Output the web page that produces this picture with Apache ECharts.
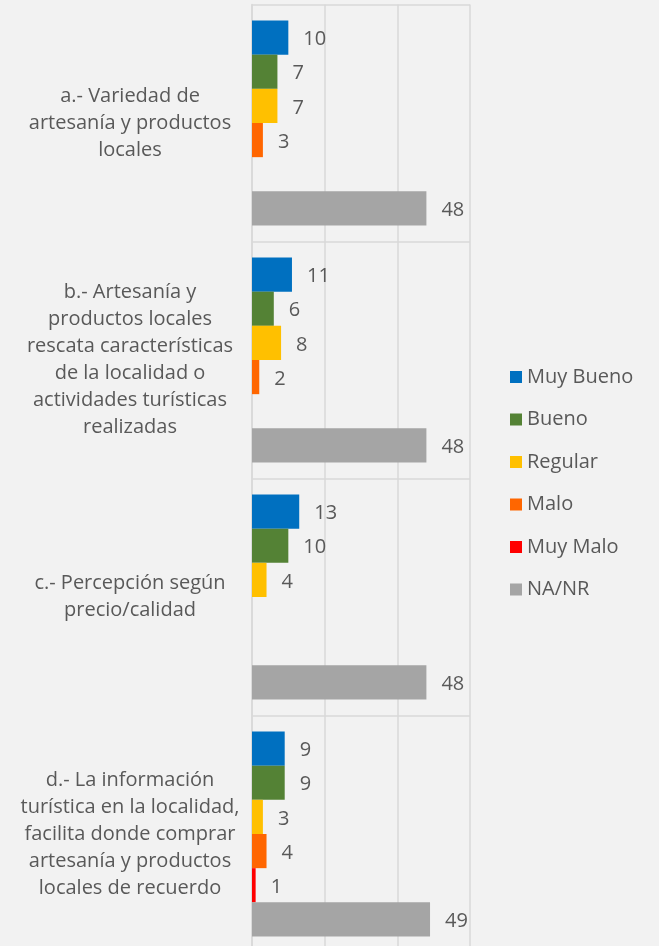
<!DOCTYPE html>
<html>
<head>
<meta charset="utf-8">
<script src="https://cdn.jsdelivr.net/npm/echarts@6/dist/echarts.min.js"></script>
<style>
  html, body { margin: 0; padding: 0; background: #F2F2F2; overflow: hidden; }
  #main { width: 659px; height: 960px; }
</style>
</head>
<body>
<div id="main"></div>
<script>
// categories (top to bottom)
var categories = [
  'a.- Variedad de\nartesanía y productos\nlocales',
  'b.- Artesanía y\nproductos locales\nrescata características\nde la localidad o\nactividades turísticas\nrealizadas',
  'c.- Percepción según\nprecio/calidad',
  'd.- La información\nturística en la localidad,\nfacilita donde comprar\nartesanía y productos\nlocales de recuerdo'
];
var seriesNames = ['Muy Bueno', 'Bueno', 'Regular', 'Malo', 'Muy Malo', 'NA/NR'];
var muyBueno = [10, 11, 13, 9];
var bueno = [7, 6, 10, 9];
var regular = [7, 8, 4, 3];
var malo = [3, 2, '-', 4];
var muyMalo = ['-', '-', '-', 1];
var naNr = [48, 48, 48, 49];
var xTicks = [0, 20, 40, 60];

var colors = ['#0070C0', '#548235', '#FFC000', '#FF6600', '#FF0000', '#A5A5A5'];
var values = [muyBueno, bueno, regular, malo, muyMalo, naNr];
var FONT = 'Open Sans';
var TXT = '#595959';
var FS = 20;

// chart div is a bit taller than the window: the plot runs past the bottom edge
var myChart = echarts.init(document.getElementById('main'));

var series = seriesNames.map(function (name, i) {
  return {
    name: name,
    type: 'bar',
    data: values[i],
    barGap: '0%',
    barCategoryGap: '13.5%',
    itemStyle: { color: colors[i] },
    label: {
      show: true,
      position: 'right',
      distance: 15,
      offset: [0, 2],
      color: TXT,
      fontSize: FS,
      fontFamily: FONT
    }
  };
});

var option = {
  backgroundColor: '#F2F2F2',
  animation: false,
  color: colors,
  textStyle: { fontFamily: FONT },
  grid: { left: 252, width: 218, top: 4.5, height: 948 },
  legend: {
    orient: 'vertical',
    left: 505,
    top: 362,
    itemWidth: 12,
    itemHeight: 12,
    itemGap: 22.5,
    icon: 'rect',
    textStyle: { color: TXT, fontSize: FS, fontFamily: FONT, lineHeight: 20 },
    data: seriesNames
  },
  xAxis: {
    type: 'value',
    min: xTicks[0],
    max: xTicks[xTicks.length - 1],
    interval: xTicks[1] - xTicks[0],
    axisLabel: { show: false },
    axisLine: { show: false },
    axisTick: { show: false },
    splitLine: { show: true, lineStyle: { color: '#D9D9D9', width: 1.5 } }
  },
  yAxis: {
    type: 'category',
    inverse: true,
    data: categories,
    axisLine: { show: true, lineStyle: { color: '#D9D9D9', width: 1.5 } },
    axisTick: { show: false },
    splitLine: { show: true, lineStyle: { color: '#D9D9D9', width: 1.5 } },
    axisLabel: {
      margin: 122,
      align: 'center',
      color: TXT,
      fontSize: FS,
      lineHeight: 27,
      padding: [3, 0, 0, 0],
      fontFamily: FONT
    }
  },
  series: series
};

myChart.setOption(option);
</script>
</body>
</html>
